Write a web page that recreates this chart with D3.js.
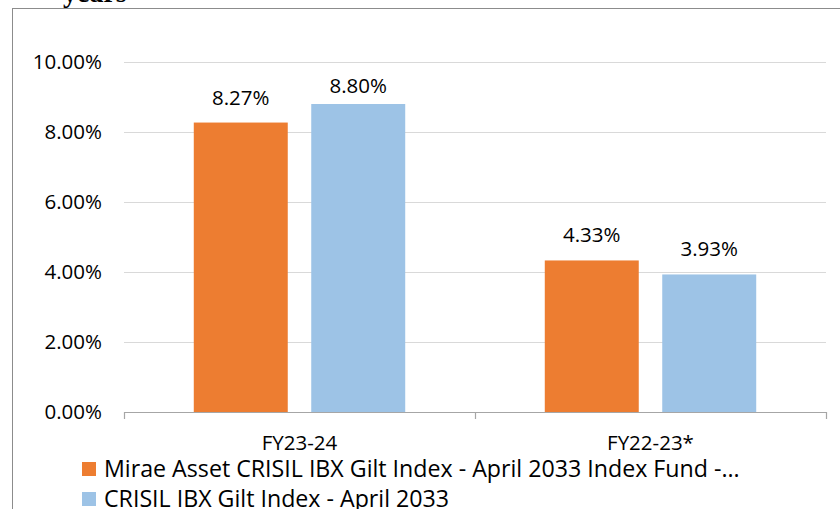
<!DOCTYPE html>
<html>
<head>
<meta charset="utf-8">
<script src="https://cdn.jsdelivr.net/npm/d3@7/dist/d3.min.js"></script>
<style>
  html, body { margin: 0; padding: 0; background: #fff; }
  svg { display: block; }
  text { font-family: "Open Sans", "Noto Sans", sans-serif; fill: #000; }
</style>
</head>
<body>
<svg id="chart" width="840" height="509"></svg>
<script>
// ---- data ----
const categories = ["FY23-24", "FY22-23*"];
const seriesNames = [
  "Mirae Asset CRISIL IBX Gilt Index - April 2033 Index Fund -...",
  "CRISIL IBX Gilt Index - April 2033"
];
const fundValues = [8.27, 4.33];
const indexValues = [8.80, 3.93];
const yTicks = [0, 2, 4, 6, 8, 10];
const colors = ["#ED7D31", "#9DC3E6"];

// ---- layout ----
const svg = d3.select("#chart");
const plot = { left: 124, right: 826, top: 62, bottom: 412 };
const fontSize = 20.5;
const legendFontSize = 23.2;

// outer border (extends beyond the viewport like the cropped original)
svg.append("rect")
  .attr("x", 12.5).attr("y", 8.5)
  .attr("width", 900).attr("height", 600)
  .attr("fill", "none").attr("stroke", "#8c8c8c").attr("stroke-width", 1);

// clipped title remnant
svg.append("text")
  .attr("x", 63).attr("y", 2)
  .style("font-family", "'Liberation Serif', 'DejaVu Serif', serif")
  .style("font-weight", "bold")
  .style("font-size", "28px")
  .text("years");

const x0 = d3.scaleBand().domain(categories).range([plot.left, plot.right]).paddingInner(0).paddingOuter(0);
const x1 = d3.scaleBand().domain([0, 1]).range([0, x0.bandwidth()]).paddingInner(0.2).paddingOuter(0.594);
const y = d3.scaleLinear().domain([0, 10]).range([plot.bottom, plot.top]);

// gridlines
svg.append("g").selectAll("line")
  .data(yTicks.filter(d => d > 0))
  .join("line")
  .attr("x1", plot.left).attr("x2", plot.right)
  .attr("y1", d => Math.round(y(d)) + 0.5).attr("y2", d => Math.round(y(d)) + 0.5)
  .attr("stroke", "#d9d9d9").attr("stroke-width", 1.2);

// y tick labels
svg.append("g").selectAll("text")
  .data(yTicks)
  .join("text")
  .attr("x", 102)
  .attr("y", d => y(d))
  .attr("dy", "0.36em")
  .attr("text-anchor", "end")
  .style("font-size", fontSize + "px")
  .text(d => d.toFixed(2) + "%");

// bars
const rows = categories.map((c, i) => ({ cat: c, vals: [fundValues[i], indexValues[i]] }));
const groups = svg.append("g").selectAll("g")
  .data(rows).join("g")
  .attr("transform", d => `translate(${x0(d.cat)},0)`);

groups.selectAll("rect")
  .data(d => d.vals.map((v, k) => ({ v, k })))
  .join("rect")
  .attr("x", d => x1(d.k))
  .attr("width", x1.bandwidth())
  .attr("y", d => y(d.v))
  .attr("height", d => y(0) - y(d.v))
  .attr("fill", d => colors[d.k]);

// value labels
groups.selectAll("text")
  .data(d => d.vals.map((v, k) => ({ v, k })))
  .join("text")
  .attr("x", d => x1(d.k) + x1.bandwidth() / 2)
  .attr("y", d => Math.max(y(d.v) - 18, 93))
  .attr("text-anchor", "middle")
  .style("font-size", fontSize + "px")
  .text(d => d.v.toFixed(2) + "%");

// x axis
const xAxis = d3.axisBottom(x0).tickSize(0).tickFormat(d => d);
const ax = svg.append("g").attr("transform", `translate(0,${plot.bottom})`).call(xAxis);
ax.select(".domain").remove();
ax.selectAll("text").remove();
ax.append("line")
  .attr("x1", plot.left).attr("x2", plot.right)
  .attr("y1", 0.5).attr("y2", 0.5)
  .attr("stroke", "#a6a6a6").attr("stroke-width", 1.2);
const boundaries = [plot.left, ...categories.map(c => x0(c) + x0.bandwidth())];
ax.selectAll(".bound")
  .data(boundaries).join("line")
  .attr("class", "bound")
  .attr("x1", d => Math.round(d) + 0.5).attr("x2", d => Math.round(d) + 0.5)
  .attr("y1", 0).attr("y2", 7)
  .attr("stroke", "#a6a6a6").attr("stroke-width", 1.2);

// category labels
svg.append("g").selectAll("text")
  .data(categories).join("text")
  .attr("x", d => x0(d) + x0.bandwidth() / 2)
  .attr("y", 443)
  .attr("dy", "0.36em")
  .attr("text-anchor", "middle")
  .style("font-size", fontSize + "px")
  .text(d => d);

// legend
const leg = svg.append("g").selectAll("g")
  .data(seriesNames).join("g")
  .attr("transform", (d, i) => `translate(82,${462 + i * 30})`);
leg.append("rect")
  .attr("width", 14).attr("height", 14)
  .attr("fill", (d, i) => colors[i]);
leg.append("text")
  .attr("x", 22).attr("y", 7)
  .attr("dy", "0.36em")
  .style("font-size", legendFontSize + "px")
  .text(d => d);
</script>
</body>
</html>
